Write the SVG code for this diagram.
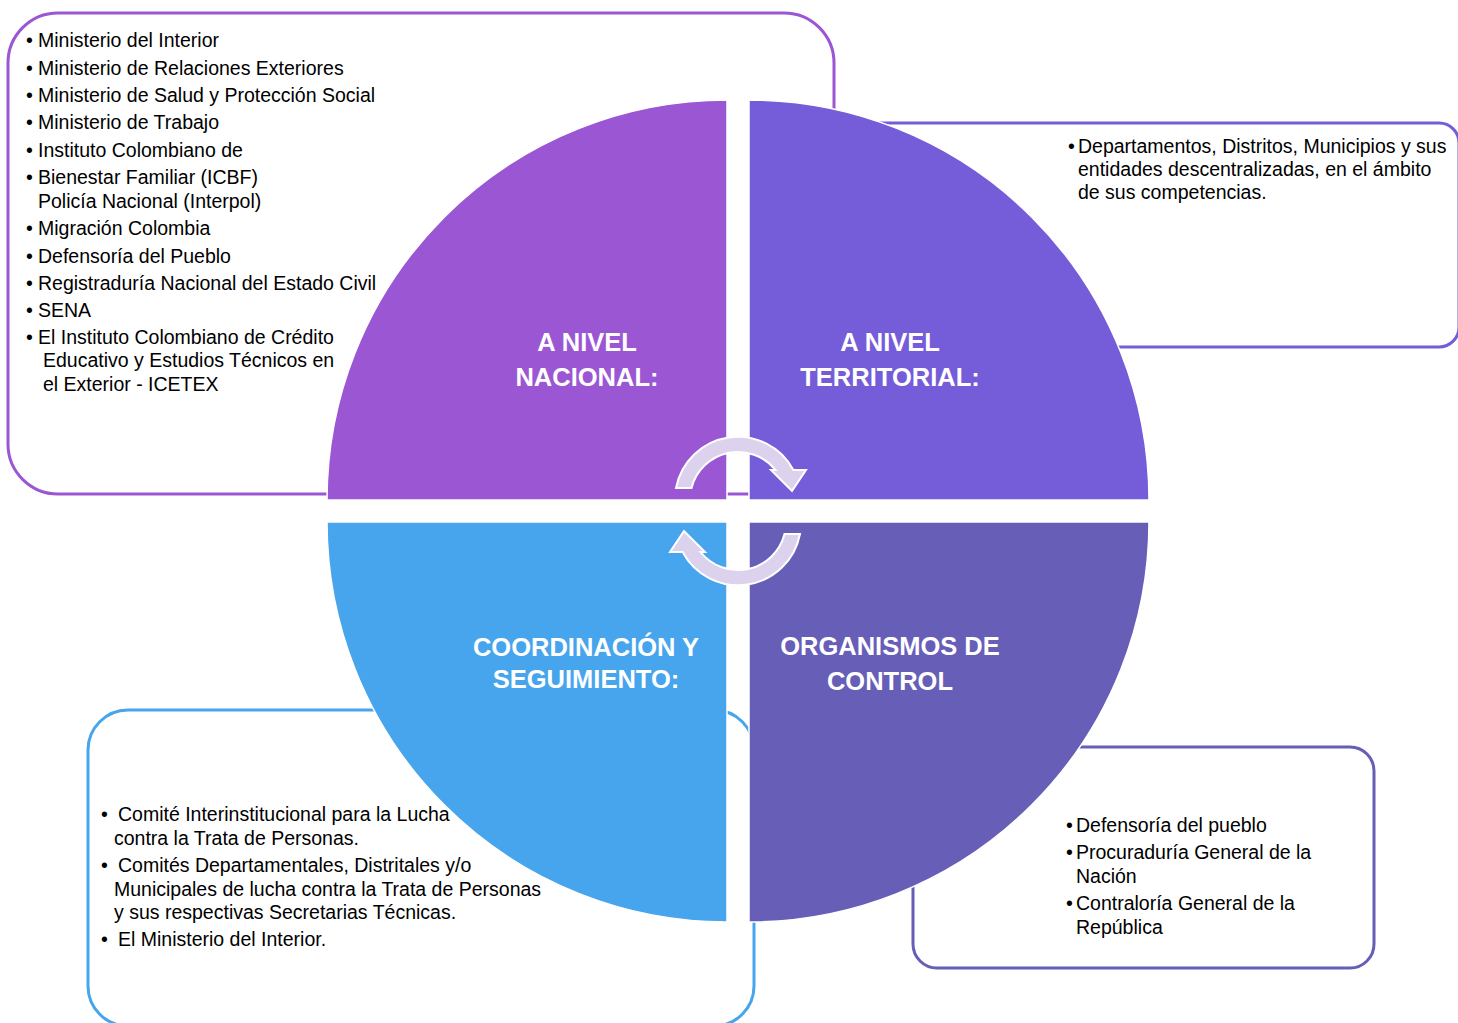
<svg xmlns="http://www.w3.org/2000/svg" width="1458" height="1023" viewBox="0 0 1458 1023">
<style>
.box{fill:#fff;stroke-width:3}
.q{stroke:#fff;stroke-width:1.5}
.t{font-family:"Liberation Sans",Arial,sans-serif;font-size:19.5px;fill:#000}
.tc{font-family:"Liberation Sans",Arial,sans-serif;font-size:19.5px;fill:#000}
.h{font-family:"Liberation Sans",Arial,sans-serif;font-size:25.5px;font-weight:bold;fill:#fff;text-anchor:middle}
.arr{fill:#DCD2EE;stroke:#fff;stroke-width:2;stroke-linejoin:miter}
</style>
<rect width="1458" height="1023" fill="#fff"/>

<g id="box-nacional">
<rect class="box" x="8" y="13" width="826" height="481" rx="50" ry="50" stroke="#9B57D3"/>
<g class="t">
<text x="26" y="47">•</text><text x="38" y="47">Ministerio del Interior</text>
<text x="26" y="75">•</text><text x="38" y="75">Ministerio de Relaciones Exteriores</text>
<text x="26" y="102">•</text><text x="38" y="102">Ministerio de Salud y Protección Social</text>
<text x="26" y="129">•</text><text x="38" y="129">Ministerio de Trabajo</text>
<text x="26" y="157">•</text><text x="38" y="157">Instituto Colombiano de</text>
<text x="26" y="184">•</text><text x="38" y="184">Bienestar Familiar (ICBF)</text>
<text x="38" y="208">Policía Nacional (Interpol)</text>
<text x="26" y="235">•</text><text x="38" y="235">Migración Colombia</text>
<text x="26" y="263">•</text><text x="38" y="263">Defensoría del Pueblo</text>
<text x="26" y="290">•</text><text x="38" y="290">Registraduría Nacional del Estado Civil</text>
<text x="26" y="317">•</text><text x="38" y="317">SENA</text>
<text x="26" y="344">•</text><text x="38" y="344">El Instituto Colombiano de Crédito</text>
<text x="43" y="367">Educativo y Estudios Técnicos en</text>
<text x="43" y="391">el Exterior - ICETEX</text>
</g>
</g>

<g id="box-territorial">
<rect class="box" x="800" y="123" width="659" height="224" rx="20" ry="20" stroke="#755DD9"/>
<g class="t">
<text x="1068" y="153">•</text><text x="1078" y="153">Departamentos, Distritos, Municipios y sus</text>
<text x="1078" y="176">entidades descentralizadas, en el ámbito</text>
<text x="1078" y="199">de sus competencias.</text>
</g>
</g>

<g id="box-coordinacion">
<rect class="box" x="88" y="710" width="666" height="316" rx="40" ry="40" stroke="#46A5EC"/>
<g class="tc">
<text x="101" y="821">•</text><text x="118" y="821">Comité Interinstitucional para la Lucha</text>
<text x="114" y="845">contra la Trata de Personas.</text>
<text x="101" y="872">•</text><text x="118" y="872">Comités Departamentales, Distritales y/o</text>
<text x="114" y="896">Municipales de lucha contra la Trata de Personas</text>
<text x="114" y="919">y sus respectivas Secretarias Técnicas.</text>
<text x="101" y="946">•</text><text x="118" y="946">El Ministerio del Interior.</text>
</g>
</g>

<g id="box-control">
<rect class="box" x="913" y="747" width="461" height="221" rx="24" ry="24" stroke="#675EB8"/>
<g class="t">
<text x="1066" y="832">•</text><text x="1076" y="832">Defensoría del pueblo</text>
<text x="1066" y="859">•</text><text x="1076" y="859">Procuraduría General de la</text>
<text x="1076" y="883">Nación</text>
<text x="1066" y="910">•</text><text x="1076" y="910">Contraloría General de la</text>
<text x="1076" y="934">República</text>
</g>
</g>

<g id="node-nacional">
<path class="q" fill="#9B57D3" d="M727,500 L327,500 A400,400 0 0 1 727,100 Z"/>
<text class="h" x="587" y="351">A NIVEL</text>
<text class="h" x="587" y="386">NACIONAL:</text>
</g>
<g id="node-territorial">
<path class="q" fill="#755DD9" d="M749,500 L749,100 A400,400 0 0 1 1149,500 Z"/>
<text class="h" x="890" y="351">A NIVEL</text>
<text class="h" x="890" y="386">TERRITORIAL:</text>
</g>
<g id="node-control">
<path class="q" fill="#675EB8" d="M749,522 L1149,522 A400,400 0 0 1 749,922 Z"/>
<text class="h" x="890" y="655">ORGANISMOS DE</text>
<text class="h" x="890" y="690">CONTROL</text>
</g>
<g id="node-coordinacion">
<path class="q" fill="#46A5EC" d="M727,522 L727,922 A400,400 0 0 1 327,522 Z"/>
<text class="h" x="586" y="656">COORDINACIÓN Y</text>
<text class="h" x="586" y="688">SEGUIMIENTO:</text>
</g>

<g id="connectors">
<path id="arrow-top" class="arr" d="M676,488 A63,63 0 0 1 793.4,470 L806,470 L792,491 L771,470 L775.5,470 A48,48 0 0 0 691.5,488 Z"/>
<path id="arrow-bottom" class="arr" transform="rotate(180 738 511)" d="M676,488 A63,63 0 0 1 793.4,470 L806,470 L792,491 L771,470 L775.5,470 A48,48 0 0 0 691.5,488 Z"/>
</g>
</svg>
